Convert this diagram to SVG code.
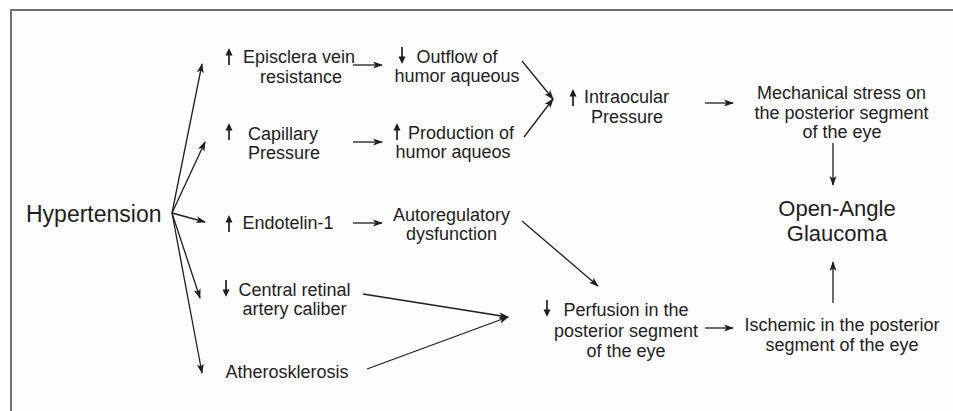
<svg xmlns="http://www.w3.org/2000/svg" xmlns:xlink="http://www.w3.org/1999/xlink" width="953" height="411" viewBox="0 0 953 411">
  <style>
    text { font-family: "Liberation Sans", Arial, sans-serif; font-size: 18px; fill: #1e1e1e; }
    .c { text-anchor: middle; }
    .big { font-size: 22px; }
    .conn line { stroke: #1e1e1e; stroke-width: 1.3; fill: none; marker-end: url(#ah); }
    .ico { fill: #1e1e1e; stroke: #1e1e1e; }
  </style>
  <defs>
    <marker id="ah" markerUnits="userSpaceOnUse" markerWidth="10" markerHeight="8" viewBox="0 0 10 8" refX="9" refY="4" orient="auto">
      <path d="M0,0.5 L10,4 L0,7.5 L2.5,4 Z" fill="#1e1e1e"/>
    </marker>
    <g id="up" class="ico">
      <path d="M0,0 L-3.5,7.5 L3.5,7.5 Z" stroke="none"/>
      <line x1="0" y1="6" x2="0" y2="17" stroke-width="1.7"/>
    </g>
    <g id="down" class="ico">
      <path d="M0,17 L-3.5,9.5 L3.5,9.5 Z" stroke="none"/>
      <line x1="0" y1="0" x2="0" y2="11" stroke-width="1.7"/>
    </g>
  </defs>

  <rect x="0" y="0" width="953" height="411" fill="#ffffff"/>
  <rect x="11" y="10" width="942" height="401" fill="#fdfdfd"/>
  <line x1="10" y1="10" x2="953" y2="10" stroke="#707070" stroke-width="2"/>
  <line x1="11" y1="9" x2="11" y2="411" stroke="#707070" stroke-width="2"/>

  <g id="hypertension">
    <text class="big" x="26" y="222" style="font-size:23px">Hypertension</text>
  </g>

  <g id="episclera">
    <use xlink:href="#up" x="229" y="48"/>
    <text class="c" x="299" y="63">Episclera vein</text>
    <text class="c" x="301" y="83">resistance</text>
  </g>

  <g id="capillary">
    <use xlink:href="#up" x="229" y="123"/>
    <text class="c" x="283" y="140">Capillary</text>
    <text class="c" x="284" y="159">Pressure</text>
  </g>

  <g id="outflow">
    <use xlink:href="#down" x="402" y="47"/>
    <text class="c" x="457" y="63">Outflow of</text>
    <text class="c" x="457" y="82">humor aqueous</text>
  </g>

  <g id="production">
    <use xlink:href="#up" x="397" y="123"/>
    <text class="c" x="461" y="139">Production of</text>
    <text class="c" x="453" y="158">humor aqueos</text>
  </g>

  <g id="intraocular">
    <use xlink:href="#up" x="573" y="89"/>
    <text class="c" x="626.5" y="103">Intraocular</text>
    <text class="c" x="627" y="123">Pressure</text>
  </g>

  <g id="mechanical">
    <text class="c" x="841.5" y="99">Mechanical stress on</text>
    <text class="c" x="841.5" y="119">the posterior segment</text>
    <text class="c" x="842" y="138">of the eye</text>
  </g>

  <g id="glaucoma">
    <text class="c big" x="837" y="216">Open-Angle</text>
    <text class="c big" x="837" y="241">Glaucoma</text>
  </g>

  <g id="endotelin">
    <use xlink:href="#up" x="229" y="215"/>
    <text class="c" x="288" y="229">Endotelin-1</text>
  </g>

  <g id="autoregulatory">
    <text class="c" x="451.5" y="221">Autoregulatory</text>
    <text class="c" x="451.5" y="240">dysfunction</text>
  </g>

  <g id="central-retinal">
    <use xlink:href="#down" x="226" y="280"/>
    <text class="c" x="294.5" y="296">Central retinal</text>
    <text class="c" x="294.5" y="315">artery caliber</text>
  </g>

  <g id="atherosklerosis">
    <text class="c" x="287" y="378">Atherosklerosis</text>
  </g>

  <g id="perfusion">
    <use xlink:href="#down" x="547" y="300"/>
    <text class="c" x="626" y="316">Perfusion in the</text>
    <text class="c" x="626" y="337">posterior segment</text>
    <text class="c" x="626" y="357">of the eye</text>
  </g>

  <g id="ischemic">
    <text class="c" x="842" y="331">Ischemic in the posterior</text>
    <text class="c" x="842" y="351">segment of the eye</text>
  </g>

  <g id="connectors" class="conn">
    <line x1="172" y1="213" x2="202" y2="64"/>
    <line x1="172" y1="213" x2="205" y2="142"/>
    <line x1="172" y1="213" x2="205" y2="222"/>
    <line x1="172" y1="213" x2="200" y2="298"/>
    <line x1="172" y1="213" x2="202" y2="373"/>
    <line x1="353" y1="65" x2="382" y2="65"/>
    <line x1="353" y1="142" x2="382" y2="142"/>
    <line x1="353" y1="223" x2="382" y2="223"/>
    <line x1="522" y1="61" x2="553" y2="99"/>
    <line x1="524" y1="137" x2="553" y2="99"/>
    <line x1="705" y1="103" x2="733" y2="103"/>
    <line x1="833" y1="143" x2="833" y2="185"/>
    <line x1="522" y1="221" x2="598" y2="286"/>
    <line x1="363" y1="294" x2="508" y2="317"/>
    <line x1="367" y1="369" x2="508" y2="317"/>
    <line x1="705" y1="328" x2="733" y2="328"/>
    <line x1="833" y1="303" x2="833" y2="262"/>
  </g>
</svg>
